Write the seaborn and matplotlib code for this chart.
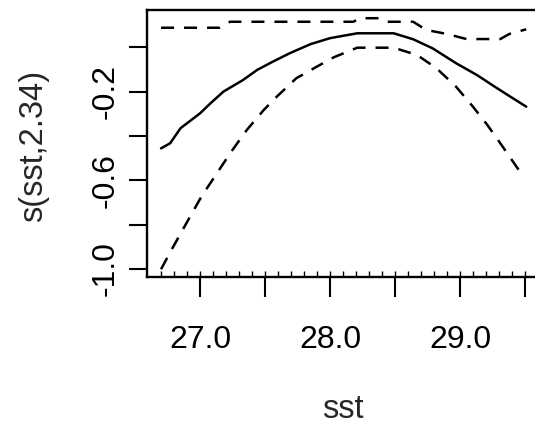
import matplotlib
matplotlib.use('Agg')
import matplotlib.pyplot as plt
import seaborn as sns

# 平滑项 s(sst,2.34) 的估计曲线及置信带
fit_sst = [26.70, 26.77, 26.85, 27.00, 27.08, 27.18, 27.33, 27.44, 27.56, 27.69, 27.85,
           28.00, 28.21, 28.49, 28.64, 28.79, 28.97, 29.13, 29.26, 29.38, 29.51]
fit_val = [-0.456, -0.433, -0.365, -0.298, -0.253, -0.200, -0.148, -0.102, -0.065, -0.027, 0.014,
           0.041, 0.063, 0.063, 0.036, -0.005, -0.072, -0.125, -0.175, -0.220, -0.268]

upper_sst = [26.70, 27.15, 27.23, 28.18, 28.23, 28.38, 28.44, 28.64, 28.74, 28.90,
             29.05, 29.31, 29.38, 29.51]
upper_val = [0.088, 0.088, 0.115, 0.115, 0.131, 0.131, 0.115, 0.115, 0.078, 0.060,
             0.037, 0.037, 0.060, 0.081]

lower_sst = [26.70, 26.78, 26.88, 27.01, 27.13, 27.24, 27.36, 27.49, 27.59, 27.74, 27.90,
             28.03, 28.21, 28.49, 28.67, 28.82, 28.97, 29.10, 29.21, 29.32, 29.46]
lower_val = [-1.001, -0.914, -0.809, -0.674, -0.568, -0.471, -0.373, -0.283, -0.223, -0.140, -0.087,
             -0.045, -0.002, -0.002, -0.035, -0.095, -0.178, -0.268, -0.350, -0.441, -0.560]

# 数据点位置（地毯图）
rug_sst = [26.7, 26.8, 26.9, 27.0, 27.1, 27.2, 27.3, 27.4, 27.5, 27.6, 27.7, 27.8, 27.9,
           28.0, 28.1, 28.2, 28.3, 28.4, 28.5, 28.6, 28.7, 28.8, 28.9, 29.0, 29.1,
           29.2, 29.3, 29.4, 29.5]

x_ticks = [27.0, 27.5, 28.0, 28.5, 29.0, 29.5]
x_labels = ['27.0', '', '28.0', '', '29.0', '']
y_ticks = [-1.0, -0.8, -0.6, -0.4, -0.2, 0.0]
y_labels = ['-1.0', '', '-0.6', '', '-0.2', '']

sns.set_style('ticks')
plt.rcParams['font.family'] = ['Liberation Sans', 'DejaVu Sans']

fig = plt.figure(figsize=(5.35, 4.24), dpi=100)
ax = fig.add_axes([147 / 535, 147 / 424, 392 / 535, 267 / 424])

dash = (0, (5.2, 4.0))
sns.lineplot(x=fit_sst, y=fit_val, color='black', lw=1.8, sort=False,
             estimator=None, ax=ax)
sns.lineplot(x=upper_sst, y=upper_val, color='black', lw=1.8, sort=False,
             estimator=None, ax=ax, linestyle=dash)
sns.lineplot(x=lower_sst, y=lower_val, color='black', lw=1.8, sort=False,
             estimator=None, ax=ax, linestyle=dash)
sns.rugplot(x=rug_sst, height=0.022, color='black', lw=2.0, ax=ax)

ax.set_xlim(26.592, 29.608)
ax.set_ylim(-1.036, 0.168)

ax.set_xticks(x_ticks)
ax.set_xticklabels(x_labels, fontsize=23)
ax.set_yticks(y_ticks)
ax.set_yticklabels(y_labels, fontsize=23, rotation=90, va='center')
ax.tick_params(axis='x', length=14.4, width=1.5, pad=20, colors='black')
ax.tick_params(axis='y', length=13, width=1.5, pad=6, colors='black')

for sp in ax.spines.values():
    sp.set_visible(True)
    sp.set_color('black')
    sp.set_linewidth(1.7)

ax.set_xlabel('sst', fontsize=23.5)
ax.set_ylabel('s(sst,2.34)', fontsize=23.5)
ax.xaxis.set_label_coords(0.5, -0.44)
ax.yaxis.set_label_coords(-0.251, 0.49)

fig.savefig('out.png', dpi=100)
